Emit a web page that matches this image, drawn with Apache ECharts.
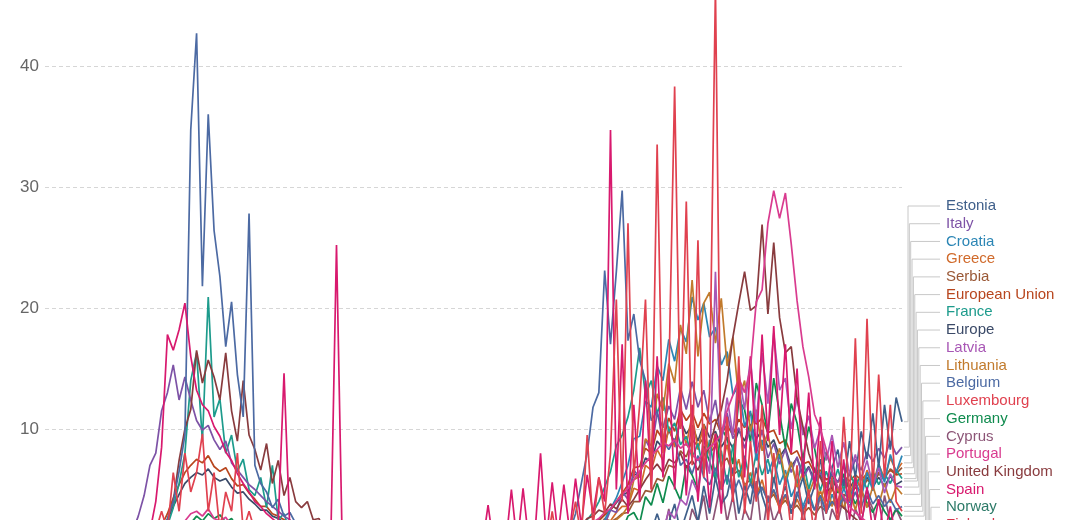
<!DOCTYPE html>
<html>
<head>
<meta charset="utf-8">
<script src="https://cdn.jsdelivr.net/npm/echarts@6/dist/echarts.min.js"></script>
<style>
html,body{margin:0;padding:0;background:#fff;overflow:hidden;width:1075px;height:520px;}
/* the chart is taller than the window: its 0 line sits below the bottom edge */
#main{position:absolute;left:0;top:-20px;width:1075px;height:570px;}
</style>
</head>
<body>
<div id="main"></div>
<script>
// daily deaths per million, one value every 3 days from 22 Jan 2020
var dates = [];
var t0 = Date.UTC(2020, 0, 22);
for (var n = 0; n < 148; n++) {
    dates.push(new Date(t0 + n * 3 * 86400000).toISOString().slice(0, 10));
}

var estonia = [
0,0,0,0,0,0,0,0,0,0,
0,0,0,0,0,0,0,0,0,0,
0,0.8,0,0.8,1.5,0.8,2.3,0.8,1.5,0.8,
1.5,0.8,0,0.8,1.5,0,0.8,0,0.8,0,
0.8,0,0,0.8,0,0,0,0.8,0,0,
0,0,0,0,0,0,0,0,0,0,
0,0,0,0,0,0,0,0,0,0,
0,0,0,0,0,0,0,0,0,0,
0,0,0,0,0.8,0,0,0,0.8,0,
0,0.8,0,0.8,0,1.5,0.8,0,1.5,0.8,
1.5,0.8,2.3,0.8,1.5,3,1.5,2.3,3.8,1.5,
3,4.5,2.3,5.3,3,6,3.8,4.5,6.8,3,
5.3,3.8,6.8,4.5,3,6,3.8,5.3,3,4.5,
6,3.8,5.3,7.5,4.5,6.8,8.3,5.3,9,6,
9.8,7.5,11.3,6.8,12,8.3,12.6,10.6];

var italy = [
0,0,0,0,0,0,0,0,0,0,
0,0,0.1,0.3,0.6,1.5,2.8,4.5,7,8,
11.5,13,15.3,12.4,14.3,12.4,10.7,9.9,10.3,9.1,
8.3,9,7.2,6.6,6,5.4,5,4.5,4,3.6,
3.2,2.8,2.5,2,1.6,1.3,1.1,1,0.8,0.6,
0.6,0.5,0.4,0.4,0.3,0.3,0.3,0.2,0.2,0.2,
0.2,0.2,0.1,0.2,0.2,0.1,0.2,0.2,0.2,0.1,
0.2,0.2,0.1,0.2,0.2,0.2,0.3,0.2,0.3,0.3,
0.3,0.4,0.3,0.4,0.5,0.4,0.5,0.6,0.7,0.8,
0.8,1.1,1,1.6,1.5,2.3,2.1,3.3,3.1,4.8,
4.2,6.6,6,9.1,8.2,11.3,10.1,11.9,10.8,13.4,
11.6,13.9,11.8,13.2,10.6,12.4,9.1,11.3,9.2,10.1,
8.4,10.2,7.9,9.9,7.6,8.8,7.1,8.3,6.4,7.7,
5.9,6.8,5.5,6.4,5.2,6.3,5.6,6.9,6.1,7.5,
6.6,8.1,7.3,8.4,7.6,9,7.9,8.5];

var croatia = [
0,0,0,0,0,0,0,0,0,0,
0,0,0,0,0,0,0,0,0,0,
0.2,0.3,0.5,0.7,0.5,1,0.7,1.2,0.5,1,
0.7,0.5,0.7,0.2,0.5,0.2,0.3,0.2,0.2,0,
0.2,0,0.2,0,0,0.2,0,0,0.2,0,
0,0.2,0,0.2,0.5,0.2,0.5,0.7,0.5,0.7,
0.5,0.7,0.2,0.5,0.2,0.5,0.2,0.2,0.5,0.2,
0.5,0.2,0.2,0.5,0.2,0.2,0.5,0.7,0.5,0.5,
0.7,0.5,0.2,0.5,0.7,0.5,0.7,0.5,0.7,0.5,
0.5,0.6,0.8,1,1.4,1.8,2.5,3.4,4.3,5.6,
7,9.2,9.4,12.3,11.8,15.2,14,17.4,15.6,18.3,
17.2,20.9,19,20.4,17.6,18.4,15.3,16.4,12.8,13.6,
10.2,11.5,7.4,9.1,6.3,7.6,5.4,6.6,4.4,5.5,
3.6,4.8,3.3,4.5,3,4.6,3.4,5.1,3.9,5.8,
4.3,6.4,4.9,7.1,5.6,7.9,6.4,7.8];

var greece = [
0,0,0,0,0,0,0,0,0,0,
0,0,0,0,0,0,0,0,0.1,0.2,
0.3,0.4,0.2,0.5,0.4,0.3,0.6,0.4,0.3,0.5,
0.3,0.2,0.4,0.2,0.3,0.1,0.2,0.1,0.2,0.1,
0.1,0.1,0,0.1,0,0.1,0,0,0.1,0,
0,0.1,0,0,0.1,0,0,0.1,0,0,
0,0.1,0,0.1,0,0.1,0.2,0.1,0.2,0.3,
0.2,0.4,0.3,0.5,0.4,0.6,0.5,0.7,0.5,0.8,
0.6,0.9,0.7,1,0.8,1.1,0.9,1.2,1.3,1.1,
1.5,1.2,1.8,1.6,2.2,2,2.6,2.4,3.1,3.6,
3.6,5.1,4.9,7,6.6,8.3,7.4,10.2,8.5,10.9,
8.6,11.2,8.3,10.4,7.8,9.6,6.9,8.7,6.1,7.5,
5.1,6.4,4.5,5.8,3.9,4.9,3.4,4.5,3,4.2,
3.1,4.4,3.3,4.9,3.6,5.1,4,5.6,4.4,6.1,
5,6.6,5.4,7.1,5.9,7.6,6.5,7.2];

var serbia = [
0,0,0,0,0,0,0,0,0,0,
0,0,0,0,0,0,0,0,0,0.1,
0.3,0.4,0.6,0.8,0.7,0.9,1,0.8,0.9,0.7,
0.6,0.7,0.5,0.4,0.5,0.3,0.4,0.3,0.2,0.3,
0.2,0.2,0.1,0.2,0.1,0.1,0.2,0.1,0.2,0.3,
0.4,0.5,0.6,0.8,1,1.2,1.4,1.6,1.8,1.7,
1.9,1.6,1.5,1.3,1.1,0.9,0.8,0.6,0.5,0.4,
0.4,0.3,0.3,0.2,0.3,0.2,0.2,0.3,0.2,0.3,
0.3,0.4,0.3,0.4,0.5,0.5,0.6,0.6,0.8,0.9,
1,1.1,1.3,1.4,1.6,1.8,2,2.3,2.6,3,
3.1,4,4,4.9,4.8,5.9,5.7,7,6.8,8.2,
7.7,9.1,8.6,9.3,8,8.6,7.1,7.6,6.2,6.6,
5.4,5.8,4.7,5.2,4.1,4.6,3.6,4.1,3.3,3.7,
3,3.5,2.9,3.6,3.2,4,3.7,4.6,4.3,5.2,
4.9,5.8,5.4,6.3,5.9,6.7,6.3,6.8];

var europeanUnion = [
0,0,0,0,0,0,0,0,0,0,
0,0,0,0,0,0,0.1,0.2,0.5,1,
2,3,4.3,5.4,6.4,7,7.5,7.2,7.8,6.9,
6.5,6.8,5.9,5.3,5.4,4.7,4.2,3.6,3.6,3,
2.8,2.5,2.2,1.8,1.6,1.3,1.2,1,0.9,0.8,
0.7,0.6,0.6,0.5,0.5,0.4,0.4,0.4,0.3,0.3,
0.3,0.3,0.3,0.2,0.3,0.2,0.3,0.3,0.3,0.3,
0.3,0.3,0.4,0.3,0.4,0.4,0.4,0.5,0.5,0.5,
0.5,0.6,0.6,0.6,0.7,0.7,0.8,0.8,0.9,0.9,
1,1.1,1.4,1.6,2,2.4,2.9,3.3,4,4.7,
5.4,6.8,6.9,8.4,8,9.9,9.1,10.9,9.8,11.6,
10.7,11.4,10.1,11.3,10.4,10.8,9.6,10.3,9.5,10.8,
10.1,11.3,10.4,10.9,9.7,9.9,8.8,9.1,7.9,8.2,
7.1,7.3,6.4,6.6,5.8,6.1,5.6,6.1,5.7,6.2,
5.8,6.3,6,6.4,6.1,6.6,6.2,6.3];

var france = [
0,0,0,0,0,0,0,0,0,0,
0,0,0,0,0,0,0,0.1,0.2,0.5,
1,2,3.5,5.5,8,14,16.3,9,20.9,11,
12.5,8,9.5,6.5,7.5,5,4.5,6,3.5,7,
2.5,3,1.5,2,1,1.2,0.8,0.9,0.5,0.6,
0.4,0.5,0.3,0.4,0.2,0.3,0.2,0.2,0.1,0.2,
0.1,0.2,0.1,0.1,0.2,0.1,0.1,0.1,0.1,0.2,
0.1,0.2,0.1,0.2,0.2,0.3,0.2,0.3,0.2,0.4,
0.3,0.4,0.3,0.5,0.4,0.5,0.6,0.8,1,1.1,
1.3,1.6,2,2.5,3.1,4,5.2,6.5,8.6,9.5,
11,13.2,16.7,12.8,14,11.3,12.6,9.8,10.5,8.7,
9.4,7.6,8.8,6.4,9.1,6,8.2,5.4,8.7,6,
7.8,5.5,8,6.2,7.5,5.6,7.9,5.4,7.2,5.5,
7.6,5,6.8,4.9,6.5,5.2,6.7,5,6.4,5.3,
6.2,5,6.5,5.4,6.3,5.5,6.6,5.9];

var europe = [
0,0,0,0,0,0,0,0,0,0,
0,0,0,0,0,0,0.1,0.2,0.4,0.8,
1.6,2.5,3.6,4.6,5.5,6,6.4,6.2,6.7,6,
5.7,5.9,5.2,4.7,4.8,4.2,3.8,3.3,3.3,2.8,
2.6,2.3,2.1,1.8,1.6,1.4,1.3,1.1,1,0.9,
0.8,0.8,0.7,0.7,0.7,0.6,0.6,0.6,0.6,0.5,
0.5,0.5,0.5,0.5,0.5,0.5,0.5,0.5,0.5,0.5,
0.5,0.5,0.5,0.5,0.5,0.5,0.5,0.5,0.6,0.6,
0.6,0.7,0.7,0.7,0.8,0.8,0.9,1,1,1.1,
1.2,1.3,1.5,1.8,2.1,2.5,2.9,3.3,3.9,4.5,
4.8,6.2,6.3,7.6,7.3,9,8.4,9.9,8.9,10.6,
9.6,10.3,9,10.4,9.3,9.8,8.5,9.3,8.4,9.9,
9,10.4,9.2,9.9,8.5,9.1,7.7,8.4,6.9,7.6,
6.2,6.9,5.7,6.3,5.2,5.8,5,5.8,5.1,5.9,
5.1,6,5.2,6,5.3,6.1,5.4,5.7];

var latvia = [
0,0,0,0,0,0,0,0,0,0,
0,0,0,0,0,0,0,0,0,0,
0,0,0.5,0,0.5,0,0.5,0,0,0.5,
0,0,0.5,0,0,0,0.5,0,0,0,
0,0,0,0,0,0,0,0,0,0,
0,0,0,0,0,0,0,0,0,0,
0,0,0,0,0,0,0,0,0,0,
0,0,0,0,0,0,0,0,0,0,
0,0,0,0,0,0,0,0,0.5,0,
0,0,0.5,0,0,0.5,0,0,0.5,0,
0.5,1,0.5,1.6,1,2.1,1.6,3.2,2.6,4.2,
3.7,5.8,4.7,8.4,6.3,23,8.9,12.6,9.5,14.7,
11.6,15.8,10.5,16.3,12.1,17.9,13.2,14.2,10,12.6,
9.5,11.1,8.4,10,7.4,9.5,6.8,8.9,6.3,7.9,
5.8,7.4,5.3,6.8,4.7,6.3,5.3,5.2];

var lithuania = [
0,0,0,0,0,0,0,0,0,0,
0,0,0,0,0,0,0,0,0,0,
0,0.4,0,0.4,0.7,0.4,0.7,0.4,0.4,0.7,
0.4,0,0.4,0.4,0,0.4,0,0,0.4,0,
0,0,0,0,0,0,0,0,0,0,
0,0,0,0,0,0,0,0,0,0,
0,0,0,0,0,0,0,0,0,0,
0,0,0,0,0,0,0,0,0,0,
0,0,0,0,0.4,0,0,0.4,0,0.4,
0.4,0.7,0.4,1.1,0.7,1.4,1.8,1.1,2.5,2.9,
3.6,5.8,6.1,9.2,8.6,12.9,11.5,15.4,13.8,18.6,
16.2,22.3,16,20.4,21.3,17.1,20.8,15.2,17.6,12.4,
14,9.8,11.6,8.2,9.7,6.9,8.4,5.8,7.3,5.2,
6.4,4.6,5.9,4.1,5.6,3.6,5.2,3.4,4.9,3.3,
5.1,3.5,5.3,3.7,5.5,3.9,5.2,4.6];

var belgium = [
0,0,0,0,0,0,0,0,0,0,
0,0,0,0,0,0,0,0.1,0.3,0.8,
1.5,2.6,4,6.5,9.5,34.7,42.7,21.8,36,26.4,
22.6,16.8,20.5,14.5,11,27.8,7,5.5,4.8,3.5,
4.2,2.8,3.1,2.2,1.8,1.5,1.2,1,0.8,0.7,
0.6,0.5,0.4,0.5,0.3,0.4,0.3,0.2,0.3,0.2,
0.2,0.3,0.2,0.2,0.3,0.2,0.3,0.4,0.3,0.4,
0.5,0.4,0.3,0.4,0.5,0.3,0.4,0.5,0.6,0.5,
0.6,0.7,0.5,0.8,0.7,0.9,1,0.8,1.2,1.4,
1.5,3,5.5,8,11.8,13,23.1,17,23,29.7,
17.3,19.5,15.7,14,10.7,11.5,9,8.3,9.2,7,
7.5,6.3,7.8,6,5.4,6.8,5,6.2,4.6,5.8,
4.5,5.5,4.3,5.2,4,5,3.8,4.6,3.5,4.8,
3.4,4.2,3.3,4.5,3.2,4,3.4,4.4,3.6,4.8,
3.5,5,3.8,4.5,3.6,4.2,3.3,3.6];

var luxembourg = [
0,0,0,0,0,0,0,0,0,0,
0,0,0,0,0,0,0,0,0.5,1.6,
3.2,1.6,6.4,3.2,8,4.8,6.4,9.6,3.2,6.4,
1.6,4.8,3.2,8,1.6,3.2,1.6,0,1.6,0,
1.6,0,0,1.6,0,0,1.6,0,0,0,
0,0,1.6,0,0,0,0,0,0,0,
0,0,0,0,1.6,0,0,0,0,0,
0,0,0,0,0,1.6,0,0,0,0,
0,1.6,0,0,1.6,0,0,3.2,0,1.6,
1.5,4,1,9.5,2,6,3,8,20.7,4,
27,6,12,20.7,5,33.5,8,14,38.3,10,
28.8,7,25.6,6,13,46.5,5,11,4,16,
3,9,4,12,2,8,3,6,1.5,7,
2,5,1,9,3,6,2,11,4,17.5,
3,19.1,5,14.5,6,12,4,3.2];

var germany = [
0,0,0,0,0,0,0,0,0,0,
0,0,0,0,0,0,0,0,0.1,0.2,
0.4,0.6,1,1.4,2,2.2,2.8,2.4,3,2.6,
2.9,2.3,2.6,1.9,2.1,1.5,1.7,1.2,1.4,0.9,
1,0.7,0.8,0.5,0.6,0.4,0.4,0.3,0.3,0.2,
0.2,0.2,0.1,0.2,0.1,0.1,0.1,0.1,0.1,0.1,
0.1,0.1,0.1,0.1,0.1,0.1,0.1,0.1,0.1,0.1,
0.1,0.1,0.1,0.1,0.1,0.1,0.1,0.1,0.1,0.1,
0.1,0.1,0.1,0.2,0.1,0.2,0.2,0.2,0.3,0.3,
0.4,0.5,0.6,0.8,0.9,1.2,1.4,1.8,2.2,1.6,
2.8,3.1,2.2,4.4,3.7,5.5,3.9,6.1,5.2,4.1,
7,6.2,5,8.6,7.3,5.8,10.1,9.2,7.1,12.4,
11.6,8.9,13.8,12,9.6,14.2,11.3,8.4,12.1,10.5,
7.5,10.2,8.4,5.9,8.1,6.5,4.7,6.3,5,3.8,
4.9,3.9,3.1,4.1,3.2,2.5,3.4,2.8];

var cyprus = [
0,0,0,0,0,0,0,0,0,0,
0,0,0,0,0,0,0,0,0,0,
0,1.1,0,1.1,2.3,0,1.1,0,1.1,0,
0,1.1,0,0,1.1,0,0,0,0,0,
0,0,0,0,0,0,0,0,0,0,
0,0,0,0,0,0,0,0,0,0,
0,0,0,0,0,0,0,0,0,0,
0,0,0,0,0,0,0,0,0,0,
0,0,0,0,0,0,1.1,0,0,0,
0,0,1.1,0,0,1.1,0,1.1,0,0,
1.1,0,2.3,1.1,0,2.3,1.1,3.4,0,2.3,
1.1,3.4,2.3,4.5,1.1,3.4,5.7,2.3,4.5,1.1,
3.4,2.3,5.7,1.1,4.5,2.3,3.4,1.1,2.3,0,
3.4,1.1,2.3,4.5,1.1,3.4,2.3,4.5,1.1,3.4,
2.3,4.5,3.4,1.1,4.5,2.3,3.4,2.3];

var portugal = [
0,0,0,0,0,0,0,0,0,0,
0,0,0,0,0,0,0,0,0.1,0.3,
0.6,1,1.5,2,2.4,3,3.2,2.8,3.4,2.6,
2.4,2.7,2,1.8,1.6,1.4,1.2,1.3,1,0.9,
0.8,0.7,0.6,0.5,0.4,0.5,0.4,0.3,0.3,0.4,
0.3,0.2,0.3,0.2,0.3,0.2,0.2,0.3,0.2,0.2,
0.2,0.1,0.2,0.1,0.2,0.1,0.1,0.2,0.1,0.1,
0.2,0.1,0.2,0.1,0.2,0.2,0.3,0.2,0.3,0.4,
0.4,0.5,0.4,0.6,0.6,0.8,0.9,1,1.1,1.3,
1.4,1.6,1.8,2,2.3,2.6,3.1,3.4,4,4.6,
5.1,5.8,6.5,7.2,7.8,8.3,8.9,8.6,9.1,8.4,
8.8,7.9,7.4,8.1,8.5,8.9,9.6,11.5,12.8,14.2,
13,15,20.5,21.5,27,29.7,27.4,29.5,25.3,20.6,
16.8,14.3,11.2,10,8.3,6.5,5.2,4.4,3.6,3.1,
2.7,2.3,2.1,1.8,1.7,1.5,1.4,1.4];

var unitedKingdom = [
0,0,0,0,0,0,0,0,0,0,
0,0,0,0,0,0,0,0.1,0.3,0.8,
1.5,2.5,4,7.4,10,11.6,16.5,13.8,15.7,14.3,
12.4,16.3,11.5,9,14,9.5,8.3,6.6,8.8,5.5,
7.4,4.5,6,4,3.5,4,2.5,2.6,1.5,1.8,
1.2,1.4,1,0.9,0.7,0.6,0.5,0.4,0.3,0.3,
0.2,0.2,0.2,0.1,0.2,0.1,0.1,0.1,0.1,0.1,
0.1,0.1,0.1,0.1,0.2,0.1,0.2,0.2,0.3,0.3,
0.3,0.4,0.4,0.5,0.6,0.8,0.9,1.1,1.3,1.6,
1.8,2.1,2,2.6,2.8,3.3,3.1,3.8,3.4,4.2,
3.6,4.2,5,5.8,6.5,7.1,6.4,7.5,7.2,8,
6.8,7.4,6.6,7.8,8.5,10.4,11.6,14,17.6,20.4,
23,19.8,20.2,26.9,19.5,25.4,19.2,16.3,16.8,12.5,
10.2,8,6.6,6,4.8,5.2,3.8,3.5,3,2.6,
2.2,1.8,1.6,1.3,1.2,1,0.9,0.8];

var spain = [
0,0,0,0,0,0,0,0,0,0,
0,0,0,0,0,0,0,0.5,1.5,4,
8.5,17.8,16.5,18.2,20.4,16,13.2,12,11.5,10.2,
9.4,8.1,7.4,6.3,5.5,4.8,4,3.6,3,2.6,
2.2,14.6,1.6,1.2,0.8,0.6,0.4,0.2,0.1,0.2,
25.2,0,0.1,0.1,0,0.1,0,0.1,0.1,0,
0.1,0,0.1,0.1,0,0.2,0,0.1,0.2,0,
0.2,0.1,0.3,0,0.4,0.3,3.7,0.2,0.5,0.3,
5,0.4,5.1,0.6,1,8,0.8,5.6,1.2,5.4,
1.5,5.9,2,6.2,3,6,4,34.7,5,17,
3,12,4,14,5,16,6,15,5,13,
4.5,12,4,10,3.5,9.6,3,11,4,14,
6,16,8,17.8,9,18.5,9.5,17,8,15,
6,13,5,11,4,9,3,7.5,2.5,6,
2,5.2,1.5,4.2,1.2,3.6,0.8,0.5];

var norway = [
0,0,0,0,0,0,0,0,0,0,
0,0,0,0,0,0,0,0,0,0,
0.2,0.4,0.6,0.8,1.1,1.3,0.9,1.5,1,0.7,
1.1,0.6,0.9,0.4,0.6,0.3,0.4,0.2,0.3,0.2,
0.2,0,0.2,0,0,0.2,0,0,0,0,
0,0,0,0,0,0,0,0,0,0,
0,0,0,0,0,0,0,0,0,0,
0,0,0,0,0,0,0,0,0,0,
0,0,0,0,0,0,0,0,0,0,
0,0.2,0,0.2,0,0.2,0.4,0.2,0,0.4,
0.2,0.6,0.4,0.2,0.7,0.4,0.9,0.6,0.4,1.1,
0.7,0.4,0.9,0.6,0.2,0.7,0.4,0.9,0.6,0.4,
0.7,0.4,0.9,0.6,0.2,0.4,0.7,0.2,0.4,0.6,
0.2,0.4,0.2,0.6,0.2,0.4,0,0.2,0.4,0.2,
0.4,0.2,0.6,0.2,0.4,0.2,0.4,0.3];

var finland = [
0,0,0,0,0,0,0,0,0,0,
0,0,0,0,0,0,0,0,0,0,
0,0.2,0.4,0.5,0.7,0.9,0.5,1.1,0.7,0.9,
0.5,0.7,0.4,0.5,0.2,0.4,0.2,0.2,0,0.2,
0,0,0,0,0,0,0,0,0,0,
0,0,0,0,0,0,0,0,0,0,
0,0,0,0,0,0,0,0,0,0,
0,0,0,0,0,0,0,0,0,0,
0,0,0,0,0,0,0,0,0,0,
0,0.2,0,0.2,0,0.2,0,0.4,0.2,0,
0.2,0.4,0.2,0.5,0.2,0.4,0.7,0.4,0.2,0.5,
0.4,0.2,0.5,0.4,0.2,0.4,0.5,0.2,0.4,0.2,
0.4,0.5,0.2,0.4,0.2,0.5,0.4,0.2,0.4,0.2,
0.4,0.2,0.4,0.2,0.5,0.2,0.4,0.2,0.4,0.2,
0.4,0.2,0.4,0.2,0.4,0.2,0.4,0.2];

// drawing order: first ones end up underneath
var countries = [
    ['Finland', finland], ['Norway', norway], ['Europe', europe],
    ['European Union', europeanUnion], ['Serbia', serbia], ['Greece', greece],
    ['Cyprus', cyprus], ['Germany', germany], ['France', france],
    ['Italy', italy], ['Croatia', croatia], ['Lithuania', lithuania],
    ['Estonia', estonia], ['Latvia', latvia], ['United Kingdom', unitedKingdom],
    ['Belgium', belgium], ['Spain', spain], ['Portugal', portugal],
    ['Luxembourg', luxembourg]
];

var colors = {
    'Estonia': '#3f5f8a', 'Italy': '#7d52a6', 'Croatia': '#2c86b5',
    'Greece': '#d06a2b', 'Serbia': '#9a5836', 'European Union': '#b8461e',
    'France': '#1d9b8c', 'Europe': '#3b4a68', 'Latvia': '#a857b5',
    'Lithuania': '#c17a2c', 'Belgium': '#4c6aa3', 'Luxembourg': '#e0414f',
    'Germany': '#0f8b4e', 'Cyprus': '#8c5577', 'Portugal': '#d93b8f',
    'United Kingdom': '#893b3e', 'Spain': '#d8196e', 'Norway': '#2c7a68',
    'Finland': '#d6334a'
};

var FONT = '"Liberation Sans", Arial, sans-serif';
var SHIFT = 20; // the chart box starts 20px above the window

var myChart = echarts.init(document.getElementById('main'));

var seriesList = [];
for (var s = 0; s < countries.length; s++) {
    seriesList.push({
        name: countries[s][0],
        type: 'line',
        data: countries[s][1],
        symbol: 'none',
        silent: true,
        lineStyle: {width: 1.7, color: colors[countries[s][0]]},
        itemStyle: {color: colors[countries[s][0]]}
    });
}

var option = {
    animation: false,
    backgroundColor: '#fff',
    grid: {left: 45, right: 173, top: 0, bottom: 0, outerBoundsMode: 'none', containLabel: false},
    xAxis: {
        type: 'category',
        data: dates,
        boundaryGap: false,
        show: false
    },
    yAxis: {
        type: 'value',
        min: 0,
        max: 47.1,
        interval: 10,
        axisLine: {show: false},
        axisTick: {show: false},
        axisLabel: {
            color: '#666',
            fontSize: 17,
            fontFamily: FONT,
            margin: 6,
            formatter: function (v) { return v % 10 === 0 ? String(v) : ''; }
        },
        splitLine: {lineStyle: {color: '#d6d6d6', width: 1, type: [4, 3]}}
    },
    series: seriesList
};

myChart.setOption(option);

// end labels with elbow connectors, sorted by last value
var ends = countries.map(function (c) {
    var d = c[1];
    return {name: c[0], idx: d.length - 1, val: d[d.length - 1]};
});
ends.sort(function (a, b) { return b.val - a.val; });

var graphics = [];
for (var k = 0; k < ends.length; k++) {
    var e = ends[k];
    var p = myChart.convertToPixel({gridIndex: 0}, [e.idx, e.val]);
    var ly = 206 + SHIFT + k * 17.72;
    var ex = 908 + k * 1.35;
    graphics.push({
        type: 'polyline',
        silent: true,
        shape: {points: [[p[0] + 2, p[1]], [ex, p[1]], [ex, ly], [940, ly]]},
        style: {stroke: '#c8c8c8', lineWidth: 1, fill: null}
    });
    graphics.push({
        type: 'text',
        silent: true,
        x: 946,
        y: ly,
        style: {
            text: e.name,
            fill: colors[e.name],
            font: '15px ' + FONT,
            textVerticalAlign: 'middle'
        }
    });
}
myChart.setOption({graphic: graphics});
</script>
</body>
</html>
